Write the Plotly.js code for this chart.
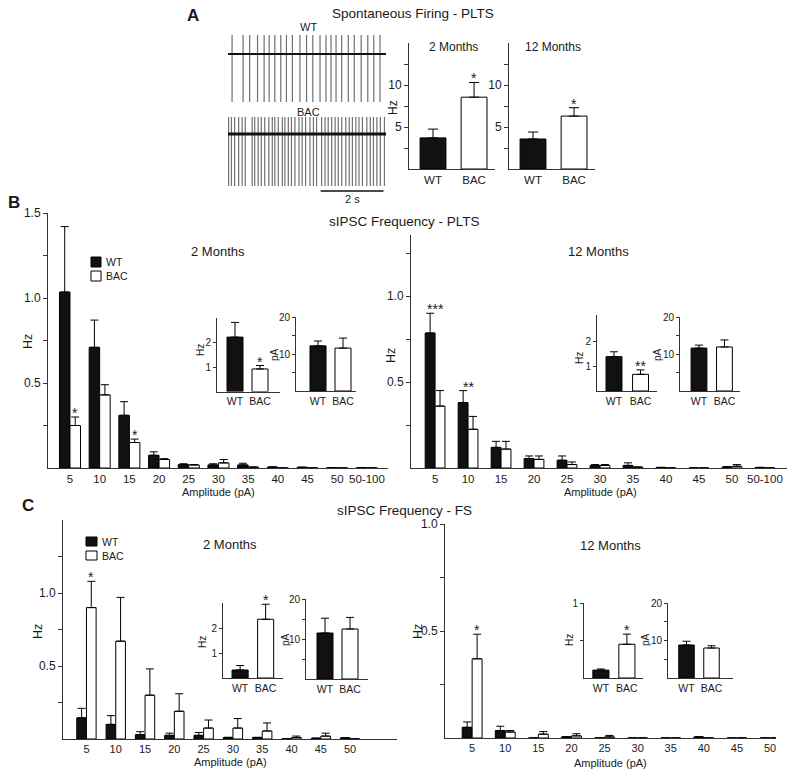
<!DOCTYPE html>
<html>
<head>
<meta charset="utf-8">
<script src="https://cdn.plot.ly/plotly-3.0.1.min.js"></script>
<style>html,body{margin:0;padding:0;background:#fff;}#chart{width:795px;height:776px;}</style>
</head>
<body>
<div id="chart"></div>
<script>
// ---------------- DATA ----------------
// Panel A: spontaneous firing traces (spike times in s)
const traceDuration = 5.03;
const wtSpikeTimes = [0.13,0.48,0.69,0.94,1.15,1.31,1.49,1.68,1.86,2.05,2.29,2.50,2.70,2.93,3.12,3.28,3.44,3.62,3.83,4.02,4.24,4.45,4.64,4.84];
const bacSpikeTimes = [0.02,0.11,0.21,0.34,0.45,0.55,0.77,0.85,0.96,1.06,1.17,1.30,1.41,1.49,1.60,1.73,1.81,1.92,2.02,2.13,2.26,2.36,2.47,2.61,2.72,2.82,2.98,3.09,3.19,3.30,3.41,3.51,3.62,3.75,3.86,3.96,4.07,4.17,4.28,4.42,4.53,4.63,4.74,4.85,4.98];
const wtSpikePeak = 19, wtSpikeTrough = -48;
const bacSpikePeak = 17, bacSpikeTrough = -52;
const scaleBarSeconds = 2;

// Panel A: firing rate (Hz)
const groups = ['WT','BAC'];
const firing2mo = [3.7, 8.55];
const firing2moSem = [1.05, 1.75];
const firing2moSig = ['', '*'];
const firing12mo = [3.57, 6.3];
const firing12moSem = [0.83, 1.0];
const firing12moSig = ['', '*'];

// Panel B: sIPSC frequency - PLTS
const ampCatsPLTS = ['5','10','15','20','25','30','35','40','45','50','50-100'];
const pl2WT     = [1.035,0.71,0.31,0.075,0.02,0.018,0.018,0.005,0.004,0.002,0.002];
const pl2WTSem  = [0.385,0.16,0.08,0.02,0.005,0.007,0.01,0.002,0.001,0.001,0.001];
const pl2BAC    = [0.25,0.43,0.15,0.05,0.018,0.03,0.005,0,0,0,0];
const pl2BACSem = [0.05,0.06,0.02,0.005,0.002,0.02,0.001,0,0,0,0];
const pl2SigBAC = ['*','','*','','','','','','','',''];
const pl12WT     = [0.785,0.38,0.12,0.055,0.045,0.015,0.015,0.003,0,0.005,0.003];
const pl12WTSem  = [0.115,0.07,0.035,0.015,0.025,0.005,0.015,0.001,0,0.003,0.001];
const pl12BAC    = [0.36,0.225,0.11,0.05,0.02,0.015,0.005,0,0,0.01,0];
const pl12BACSem = [0.09,0.075,0.045,0.02,0.015,0.005,0.001,0,0,0.01,0];
const pl12SigPair = ['***','**','','','','','','','','',''];
// insets: total frequency (Hz) and amplitude (pA)
const pl2Hz = [2.22, 0.92],  pl2HzSem = [0.6, 0.14],  pl2HzSig = ['', '*'];
const pl2pA = [12.2, 11.6],  pl2pASem = [1.3, 2.7];
const pl12Hz = [1.4, 0.68],  pl12HzSem = [0.2, 0.18], pl12HzSig = ['', '**'];
const pl12pA = [11.6, 11.9], pl12pASem = [0.8, 1.9];

// Panel C: sIPSC frequency - FS
const ampCatsFS = ['5','10','15','20','25','30','35','40','45','50'];
const fs2WT     = [0.145,0.10,0.03,0.025,0.025,0.01,0.01,0.002,0.005,0.008];
const fs2WTSem  = [0.065,0.06,0.02,0.015,0.02,0.002,0.002,0.001,0.001,0.001];
const fs2BAC    = [0.90,0.67,0.30,0.19,0.075,0.075,0.055,0.01,0.02,0];
const fs2BACSem = [0.18,0.30,0.18,0.12,0.055,0.065,0.055,0.01,0.02,0];
const fs2SigBAC = ['*','','','','','','','','',''];
const fs12WT     = [0.05,0.035,0,0.005,0,0,0,0.005,0,0];
const fs12WTSem  = [0.025,0.02,0,0.001,0,0,0,0.001,0,0];
const fs12BAC    = [0.37,0.028,0.018,0.01,0.005,0,0,0,0,0];
const fs12BACSem = [0.115,0.007,0.012,0.01,0.007,0,0,0,0,0];
const fs12SigBAC = ['*','','','','','','','','',''];
const fs2Hz = [0.32, 2.35],  fs2HzSem = [0.18, 0.6],   fs2HzSig = ['', '*'];
const fs2pA = [11.5, 12.5],  fs2pASem = [3.7, 2.9];
const fs12Hz = [0.105, 0.45], fs12HzSem = [0.015, 0.135], fs12HzSig = ['', '*'];
const fs12pA = [8.8, 8.0],   fs12pASem = [1.0, 0.6];

// ---------------- STYLE / LAYOUT HELPERS ----------------
const W = 795, H = 776;
const FONT = 'Liberation Sans, Arial, Helvetica, sans-serif';
const TXT = '#1a1a1a', AX = '#333333';
const WT_COLOR = '#111111', BAC_COLOR = '#ffffff';
const fx = p => p / W;
const fy = p => 1 - p / H;

const data = [];
const layout = {
  width: W, height: H, autosize: false,
  margin: {l: 0, r: 0, t: 0, b: 0, pad: 0},
  paper_bgcolor: '#ffffff', plot_bgcolor: 'rgba(0,0,0,0)',
  showlegend: false, barmode: 'overlay',
  font: {family: FONT, color: TXT, size: 12},
  annotations: [], shapes: []
};

function ids(n) {
  return n === 1 ? {xa: 'xaxis', ya: 'yaxis', xr: 'x', yr: 'y'}
                 : {xa: 'xaxis' + n, ya: 'yaxis' + n, xr: 'x' + n, yr: 'y' + n};
}

function addAxes(n, o) {
  const d = ids(n);
  layout[d.xa] = {
    domain: [fx(o.x0), fx(o.x1)], anchor: d.yr, range: o.xrange,
    type: o.xtype || 'category', showline: o.visible !== false, linecolor: AX, linewidth: 1,
    ticks: '', showgrid: false, zeroline: false, fixedrange: true,
    visible: o.visible !== false,
    tickfont: {size: o.xfont || 11.5, color: TXT, family: FONT},
    automargin: false
  };
  const ya = {
    domain: [fy(o.y1), fy(o.y0)], anchor: d.xr, range: o.yrange,
    showline: o.visible !== false, linecolor: AX, linewidth: 1,
    showgrid: false, zeroline: false, fixedrange: true, visible: o.visible !== false,
    tickmode: 'array', tickvals: o.ytv || [], ticktext: o.ytt || (o.ytv || []).map(String),
    ticks: 'outside', ticklen: o.ticklen || 4, tickcolor: AX, tickwidth: 1,
    tickfont: {size: o.yfont || 12, color: TXT, family: FONT},
    automargin: false
  };
  if (o.yminor) {
    ya.minor = {tickmode: 'array', tickvals: o.yminor, ticks: 'outside',
                ticklen: o.ticklen || 4, tickcolor: AX, tickwidth: 1, showgrid: false};
  }
  layout[d.ya] = ya;
  return d;
}

function ann(text, px, py, size, extra) {
  layout.annotations.push(Object.assign({
    text: text, xref: 'paper', yref: 'paper', x: fx(px), y: fy(py),
    xanchor: 'center', yanchor: 'middle', showarrow: false,
    font: {family: FONT, size: size, color: TXT}
  }, extra || {}));
}

function star(d, text, x, y, size) {
  if (!text) return;
  layout.annotations.push({
    text: text, xref: d.xr, yref: d.yr, x: x, y: y,
    xanchor: 'center', yanchor: 'bottom', showarrow: false, yshift: -6,
    font: {family: FONT, size: size || 14, color: TXT}
  });
}

function errY(sem, w) {
  return {type: 'data', array: sem, arrayminus: sem.map(() => 0), symmetric: false,
          color: '#000', thickness: 1, width: w || 4, visible: true};
}

// grouped WT/BAC bars over amplitude bins
function groupedBars(d, cats, wt, wtSem, bac, bacSem, w, sigBAC, sigPair) {
  data.push({type: 'bar', x: cats, y: wt, width: w, offset: -w, xaxis: d.xr, yaxis: d.yr,
    marker: {color: WT_COLOR, line: {color: '#000', width: 1}}, error_y: errY(wtSem, 4),
    name: 'WT', hoverinfo: 'y'});
  data.push({type: 'bar', x: cats, y: bac, width: w, offset: 0, xaxis: d.xr, yaxis: d.yr,
    marker: {color: BAC_COLOR, line: {color: '#000', width: 1}}, error_y: errY(bacSem, 4),
    name: 'BAC', hoverinfo: 'y'});
  cats.forEach((c, i) => {
    if (sigBAC) star(d, sigBAC[i], i + w / 2, bac[i] + bacSem[i]);
    if (sigPair) star(d, sigPair[i], i, Math.max(wt[i] + wtSem[i], bac[i] + bacSem[i]));
  });
}

// WT vs BAC summary bars
function pairBars(d, vals, sem, w, sig, ew) {
  data.push({type: 'bar', x: groups, y: vals, width: w, xaxis: d.xr, yaxis: d.yr,
    marker: {color: [WT_COLOR, BAC_COLOR], line: {color: '#000', width: 1}},
    error_y: errY(sem, ew || 4), hoverinfo: 'y'});
  if (sig) groups.forEach((g, i) => star(d, sig[i], i, vals[i] + sem[i]));
}

// ---------------- PANEL A ----------------
const dA = addAxes(1, {x0: 228, x1: 386, y0: 20, y1: 200, xrange: [0, traceDuration],
  yrange: [-146, 34], xtype: 'linear', visible: false});
const wtBase = 0, bacBase = -80;
function spikeLines(times, base, peak, trough) {
  const x = [], y = [];
  times.forEach(t => { x.push(t, t, null); y.push(base + peak, base + trough, null); });
  return {x, y};
}
const wtS = spikeLines(wtSpikeTimes, wtBase, wtSpikePeak, wtSpikeTrough);
const bacS = spikeLines(bacSpikeTimes, bacBase, bacSpikePeak, bacSpikeTrough);
data.push({type: 'scatter', mode: 'lines', x: wtS.x, y: wtS.y, xaxis: dA.xr, yaxis: dA.yr,
  line: {color: '#707070', width: 1.2}, hoverinfo: 'skip'});
data.push({type: 'scatter', mode: 'lines', x: bacS.x, y: bacS.y, xaxis: dA.xr, yaxis: dA.yr,
  line: {color: '#707070', width: 1.2}, hoverinfo: 'skip'});
data.push({type: 'scatter', mode: 'lines', x: [0, traceDuration], y: [wtBase, wtBase],
  xaxis: dA.xr, yaxis: dA.yr, line: {color: '#111', width: 2.2}, hoverinfo: 'skip'});
data.push({type: 'scatter', mode: 'lines', x: [0, traceDuration], y: [bacBase, bacBase],
  xaxis: dA.xr, yaxis: dA.yr, line: {color: '#111', width: 2.8}, hoverinfo: 'skip'});
// scale bar
layout.shapes.push({type: 'line', xref: dA.xr, yref: dA.yr,
  x0: traceDuration - 0.08 - scaleBarSeconds, x1: traceDuration - 0.08, y0: -137, y1: -137,
  line: {color: '#111', width: 1.5}});

const dA2 = addAxes(2, {x0: 409, x1: 495, y0: 43, y1: 169, xrange: [-0.585, 1.51],
  yrange: [0, 15], ytv: [5, 10], yminor: [2.5, 7.5, 12.5], xfont: 11.5, yfont: 12});
pairBars(dA2, firing2mo, firing2moSem, 0.63, firing2moSig, 5);
const dA3 = addAxes(3, {x0: 509, x1: 595, y0: 43, y1: 169, xrange: [-0.585, 1.51],
  yrange: [0, 15], ytv: [5, 10], yminor: [2.5, 7.5, 12.5], xfont: 11.5, yfont: 12});
pairBars(dA3, firing12mo, firing12moSem, 0.63, firing12moSig, 5);

ann('<b>A</b>', 193, 15, 17);
ann('Spontaneous Firing - PLTS', 413, 13, 13.5);
ann('WT', 308, 27, 11);
ann('BAC', 308, 112, 11);
ann('2 s', 352, 199, 11);
ann('2 Months', 453, 47, 12);
ann('12 Months', 553, 47, 12);
ann('Hz', 393, 108, 12, {textangle: -90});

// ---------------- PANEL B ----------------
const dB1 = addAxes(4, {x0: 48, x1: 388, y0: 213, y1: 468, xrange: [-0.74, 10.71],
  yrange: [0, 1.5], ytv: [0.5, 1.0, 1.5], ytt: ['0.5', '1.0', '1.5'], yminor: [0.25, 0.75, 1.25]});
groupedBars(dB1, ampCatsPLTS, pl2WT, pl2WTSem, pl2BAC, pl2BACSem, 0.354, pl2SigBAC, null);
const dB1h = addAxes(5, {x0: 217, x1: 280, y0: 318, y1: 391.5, xrange: [-0.72, 1.8],
  yrange: [0, 3], ytv: [1, 2], xfont: 10.5, yfont: 10, ticklen: 3});
pairBars(dB1h, pl2Hz, pl2HzSem, 0.64, pl2HzSig, 4);
const dB1p = addAxes(6, {x0: 296, x1: 356, y0: 317, y1: 391, xrange: [-0.88, 1.52],
  yrange: [0, 20], ytv: [10, 20], yminor: [5, 15], xfont: 10.5, yfont: 10, ticklen: 3});
pairBars(dB1p, pl2pA, pl2pASem, 0.64, null, 4);

const dB2 = addAxes(7, {x0: 411, x1: 787, y0: 235, y1: 468, xrange: [-0.73, 10.67],
  yrange: [0, 1.355], ytv: [0.5, 1.0], ytt: ['0.5', '1.0'], yminor: [0.25, 0.75, 1.25]});
groupedBars(dB2, ampCatsPLTS, pl12WT, pl12WTSem, pl12BAC, pl12BACSem, 0.30, null, pl12SigPair);
const dB2h = addAxes(8, {x0: 597, x1: 657, y0: 315, y1: 391, xrange: [-0.64, 1.62],
  yrange: [0, 3.1], ytv: [1, 2], xfont: 10.5, yfont: 10, ticklen: 3});
pairBars(dB2h, pl12Hz, pl12HzSem, 0.6, pl12HzSig, 4);
const dB2p = addAxes(9, {x0: 680, x1: 740, y0: 317, y1: 391, xrange: [-0.745, 1.61],
  yrange: [0, 20], ytv: [10, 20], yminor: [5, 15], xfont: 10.5, yfont: 10, ticklen: 3});
pairBars(dB2p, pl12pA, pl12pASem, 0.62, null, 4);

ann('<b>B</b>', 14, 203, 17);
ann('sIPSC Frequency - PLTS', 404, 221, 13.5);
ann('2 Months', 218, 252, 13);
ann('12 Months', 598, 252, 13);
ann('Hz', 28, 342, 12.5, {textangle: -90});
ann('Hz', 391, 356, 12.5, {textangle: -90});
ann('Hz', 201, 350, 10, {textangle: -90});
ann('pA', 275, 355, 10, {textangle: -90});
ann('Hz', 579, 358, 10, {textangle: -90});
ann('pA', 658, 355, 10, {textangle: -90});
ann('Amplitude (pA)', 218, 492, 11);
ann('Amplitude (pA)', 600, 492, 11);
// legend B
layout.shapes.push({type: 'rect', xref: 'paper', yref: 'paper', x0: fx(91), x1: fx(101), y0: fy(267), y1: fy(257),
  fillcolor: WT_COLOR, line: {color: '#000', width: 1}});
layout.shapes.push({type: 'rect', xref: 'paper', yref: 'paper', x0: fx(91), x1: fx(101), y0: fy(281), y1: fy(271),
  fillcolor: BAC_COLOR, line: {color: '#000', width: 1}});
ann('WT', 104, 262, 10.5, {xanchor: 'left'});
ann('BAC', 104, 276, 10.5, {xanchor: 'left'});

// ---------------- PANEL C ----------------
const dC1 = addAxes(10, {x0: 63, x1: 397, y0: 520, y1: 739, xrange: [-0.8, 10.6], xfont: 11,
  yrange: [0, 1.5], ytv: [0.5, 1.0], ytt: ['0.5', '1.0'], yminor: [0.25, 0.75, 1.25]});
groupedBars(dC1, ampCatsFS, fs2WT, fs2WTSem, fs2BAC, fs2BACSem, 0.33, fs2SigBAC, null);
const dC1h = addAxes(11, {x0: 223, x1: 283, y0: 603, y1: 678, xrange: [-0.67, 1.68],
  yrange: [0, 3], ytv: [1, 2], xfont: 10.5, yfont: 10, ticklen: 3});
pairBars(dC1h, fs2Hz, fs2HzSem, 0.63, fs2HzSig, 4);
const dC1p = addAxes(12, {x0: 306, x1: 368, y0: 599, y1: 679, xrange: [-0.76, 1.72],
  yrange: [0, 20], ytv: [10, 20], yminor: [5, 15], xfont: 10.5, yfont: 10, ticklen: 3});
pairBars(dC1p, fs2pA, fs2pASem, 0.64, null, 4);

const dC2 = addAxes(13, {x0: 445, x1: 776, y0: 524, y1: 738, xrange: [-0.82, 9.18], xfont: 11,
  yrange: [0, 1.0], ytv: [0.5, 1.0], ytt: ['0.5', '1.0'], yminor: [0.25, 0.75]});
groupedBars(dC2, ampCatsFS, fs12WT, fs12WTSem, fs12BAC, fs12BACSem, 0.30, fs12SigBAC, null);
const dC2h = addAxes(14, {x0: 584, x1: 643, y0: 603, y1: 678, xrange: [-0.65, 1.62],
  yrange: [0, 1], ytv: [1], yminor: [0.5], xfont: 10.5, yfont: 10, ticklen: 3});
pairBars(dC2h, fs12Hz, fs12HzSem, 0.62, fs12HzSig, 4);
const dC2p = addAxes(15, {x0: 668, x1: 733, y0: 603, y1: 678, xrange: [-0.74, 1.86],
  yrange: [0, 20], ytv: [10, 20], yminor: [5, 15], xfont: 10.5, yfont: 10, ticklen: 3});
pairBars(dC2p, fs12pA, fs12pASem, 0.62, null, 4);

ann('<b>C</b>', 28, 505, 17);
ann('sIPSC Frequency - FS', 404, 510, 13.5);
ann('2 Months', 230, 544, 13);
ann('12 Months', 610, 545, 13);
ann('Hz', 38, 632, 12.5, {textangle: -90});
ann('Hz', 418, 632, 12.5, {textangle: -90});
ann('Hz', 202, 642, 10, {textangle: -90});
ann('pA', 285, 640, 10, {textangle: -90});
ann('Hz', 569, 640, 10, {textangle: -90});
ann('pA', 645, 640, 10, {textangle: -90});
ann('Amplitude (pA)', 230, 762, 11);
ann('Amplitude (pA)', 610, 763, 11);
layout.shapes.push({type: 'rect', xref: 'paper', yref: 'paper', x0: fx(86), x1: fx(97), y0: fy(546), y1: fy(537),
  fillcolor: WT_COLOR, line: {color: '#000', width: 1}});
layout.shapes.push({type: 'rect', xref: 'paper', yref: 'paper', x0: fx(86), x1: fx(97), y0: fy(560), y1: fy(551),
  fillcolor: BAC_COLOR, line: {color: '#000', width: 1}});
ann('WT', 100, 541.5, 10.5, {xanchor: 'left'});
ann('BAC', 100, 555.5, 10.5, {xanchor: 'left'});

Plotly.newPlot('chart', data, layout, {staticPlot: true, displayModeBar: false});
</script>
</body>
</html>
